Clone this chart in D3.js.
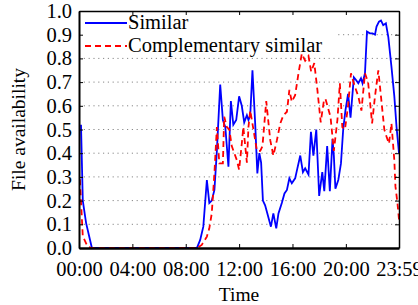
<!DOCTYPE html>
<html lang="en">
<head>
    <meta charset="UTF-8">
    <title>File availability</title>
    <script src="https://d3js.org/d3.v7.min.js"></script>
    <style>
        body { margin: 0; background: #fff; }
        text { font-family: "Liberation Serif", "Times New Roman", serif; }
    </style>
</head>
<body>
    <div id="chart"></div>

    <script>
        // time in minutes since 00:00, value = availability
        const simTimes = [9, 17, 32, 58, 530, 545, 559, 575, 586, 597, 609, 620, 635, 647, 658, 672, 683, 694, 707, 720,
            732, 743, 755, 762, 770, 780, 792, 802, 811, 819, 827, 837, 847, 863, 874, 887, 897, 912, 924, 935,
            946, 957, 972, 982, 995, 1007, 1017, 1032, 1043, 1054, 1067, 1080, 1094, 1103, 1116, 1128, 1140, 1146, 1153, 1166,
            1178, 1188, 1198, 1210, 1221, 1236, 1245, 1256, 1268, 1275, 1286, 1295, 1308, 1320, 1331, 1338, 1349, 1358, 1368, 1380,
            1391, 1405, 1418, 1428, 1439];
        const simValues = [0.52, 0.20, 0.105, 0.0, 0.0, 0.034, 0.09, 0.287, 0.19, 0.20, 0.245, 0.41, 0.69, 0.54, 0.51, 0.343, 0.62, 0.52, 0.54, 0.64,
            0.60, 0.53, 0.56, 0.54, 0.56, 0.75, 0.53, 0.315, 0.40, 0.36, 0.20, 0.18, 0.146, 0.09, 0.146, 0.083, 0.146, 0.19, 0.23, 0.245,
            0.294, 0.273, 0.294, 0.336, 0.39, 0.32, 0.336, 0.31, 0.49, 0.39, 0.50, 0.22, 0.32, 0.24, 0.43, 0.24, 0.46, 0.39, 0.25, 0.287,
            0.357, 0.50, 0.58, 0.65, 0.55, 0.72, 0.71, 0.695, 0.716, 0.695, 0.737, 0.913, 0.906, 0.906, 0.90, 0.934, 0.955, 0.96, 0.94, 0.948,
            0.89, 0.765, 0.64, 0.51, 0.40];

        const compTimes = [4, 17, 39, 58, 531, 552, 575, 586, 597, 609, 620, 631, 647, 653, 665, 676, 687, 710, 720, 732,
            739, 755, 762, 770, 788, 800, 815, 825, 842, 860, 874, 890, 905, 919, 935, 946, 957, 972, 987, 1002,
            1017, 1032, 1044, 1058, 1072, 1087, 1101, 1108, 1131, 1146, 1162, 1173, 1184, 1196, 1210, 1223, 1241, 1256, 1270, 1286,
            1300, 1318, 1331, 1346, 1360, 1373, 1383, 1394, 1405, 1418, 1423, 1432, 1439];
        const compValues = [0.29, 0.05, 0.005, 0.0, 0.0, 0.013, 0.048, 0.083, 0.146, 0.315, 0.51, 0.357, 0.357, 0.554, 0.51, 0.50, 0.43, 0.37, 0.33, 0.44,
            0.51, 0.36, 0.51, 0.58, 0.48, 0.41, 0.41, 0.43, 0.62, 0.455, 0.39, 0.455, 0.525, 0.56, 0.575, 0.667, 0.617, 0.645, 0.737, 0.82,
            0.79, 0.81, 0.744, 0.78, 0.667, 0.53, 0.62, 0.63, 0.554, 0.41, 0.54, 0.695, 0.51, 0.50, 0.60, 0.737, 0.68, 0.64, 0.58, 0.737,
            0.70, 0.526, 0.64, 0.75, 0.62, 0.50, 0.47, 0.44, 0.526, 0.37, 0.26, 0.19, 0.12];

        const xTicks = [0, 240, 480, 720, 960, 1200, 1439];
        const xTickLabels = ["00:00", "04:00", "08:00", "12:00", "16:00", "20:00", "23:59"];
        const yTicks = [0, 0.1, 0.2, 0.3, 0.4, 0.5, 0.6, 0.7, 0.8, 0.9, 1.0];
        const seriesNames = ["Similar", "Complementary similar"];

        const width = 418, height = 305;
        const margin = { top: 11, right: 19, bottom: 57, left: 79 };
        const innerW = width - margin.left - margin.right;
        const innerH = height - margin.top - margin.bottom;

        const svg = d3.select("#chart").append("svg")
            .attr("width", width)
            .attr("height", height);

        const g = svg.append("g")
            .attr("transform", `translate(${margin.left},${margin.top})`);

        const x = d3.scaleLinear().domain([0, 1439]).range([0, innerW]);
        const y = d3.scaleLinear().domain([0, 1]).range([innerH, 0]);

        // dotted horizontal grid
        g.append("g").selectAll("line")
            .data(yTicks.slice(1, -1))
            .enter().append("line")
            .attr("x1", 0).attr("x2", innerW)
            .attr("y1", d => y(d)).attr("y2", d => y(d))
            .attr("stroke", "#888")
            .attr("stroke-width", 1)
            .attr("stroke-dasharray", "1.2,3.6");

        // legend background
        g.append("rect")
            .attr("x", 1).attr("y", 1)
            .attr("width", 255).attr("height", 40)
            .attr("fill", "#fff");

        const simData = simTimes.map((t, i) => [t, simValues[i]]);
        const compData = compTimes.map((t, i) => [t, compValues[i]]);

        const line = d3.line()
            .x(d => x(d[0]))
            .y(d => y(d[1]));

        g.append("path")
            .datum(simData)
            .attr("d", line)
            .attr("fill", "none")
            .attr("stroke", "#0000ff")
            .attr("stroke-width", 1.8);

        g.append("path")
            .datum(compData)
            .attr("d", line)
            .attr("fill", "none")
            .attr("stroke", "#ff0000")
            .attr("stroke-width", 1.8)
            .attr("stroke-dasharray", "6,4");

        // axes
        const xAxis = d3.axisBottom(x).tickValues(xTicks)
            .tickFormat((d, i) => xTickLabels[i])
            .tickSizeInner(-4).tickSizeOuter(0).tickPadding(13);
        const gx = g.append("g")
            .attr("transform", `translate(0,${innerH})`)
            .call(xAxis);
        gx.select(".domain").attr("stroke-width", 2.5);
        gx.selectAll("text").attr("font-size", "20.5px").attr("fill", "#000");

        g.append("g").call(d3.axisTop(x).tickValues(xTicks).tickFormat("")
            .tickSizeInner(-4).tickSizeOuter(0))
            .select(".domain").attr("stroke-width", 1.5);

        const yAxis = d3.axisLeft(y).tickValues(yTicks)
            .tickFormat(d3.format(".1f"))
            .tickSizeInner(-4).tickSizeOuter(0).tickPadding(7);
        const gy = g.append("g").call(yAxis);
        gy.select(".domain").attr("stroke-width", 2);
        gy.selectAll("text").attr("font-size", "20.5px").attr("fill", "#000");

        g.append("g")
            .attr("transform", `translate(${innerW},0)`)
            .call(d3.axisRight(y).tickValues(yTicks).tickFormat("")
                .tickSizeInner(-4).tickSizeOuter(0))
            .select(".domain").attr("stroke-width", 1.5);

        // legend
        const legend = g.append("g").attr("transform", "translate(6,12)");
        const styles = [{ c: "#0000ff", dash: null }, { c: "#ff0000", dash: "6,4" }];
        seriesNames.forEach((name, i) => {
            legend.append("line")
                .attr("x1", 0).attr("x2", 42)
                .attr("y1", i * 23).attr("y2", i * 23)
                .attr("stroke", styles[i].c)
                .attr("stroke-width", 2)
                .attr("stroke-dasharray", styles[i].dash);
            legend.append("text")
                .attr("x", 43).attr("y", i * 23 + 6)
                .attr("font-size", "20.5px")
                .text(name);
        });

        // axis titles
        svg.append("text")
            .attr("x", margin.left + innerW / 2)
            .attr("y", 301)
            .attr("text-anchor", "middle")
            .attr("font-size", "19.5px")
            .text("Time");

        svg.append("text")
            .attr("transform", "rotate(-90)")
            .attr("x", -(margin.top + innerH / 2))
            .attr("y", 25)
            .attr("text-anchor", "middle")
            .attr("font-size", "19.5px")
            .text("File availability");
    </script>
</body>
</html>
